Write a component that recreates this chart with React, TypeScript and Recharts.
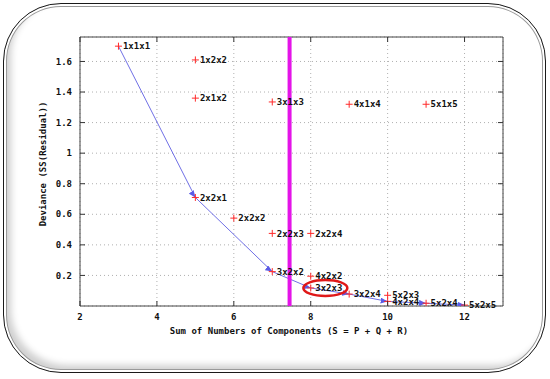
import React from 'react';
import {
  ComposedChart,
  Scatter,
  Line,
  XAxis,
  YAxis,
  CartesianGrid,
  ReferenceLine,
  ReferenceArea,
  ReferenceDot,
  LabelList,
  Label,
} from 'recharts';

// model labels, S = P + Q + R, deviance
const modelLabels = [
  '1x1x1', '1x2x2', '2x1x2', '3x1x3', '4x1x4', '5x1x5',
  '2x2x1', '2x2x2', '2x2x3', '2x2x4', '3x2x2', '4x2x2',
  '3x2x3', '3x2x4', '5x2x3', '4x2x4', '5x2x4', '5x2x5',
];
const componentSums = [3, 5, 5, 7, 9, 11, 5, 6, 7, 8, 7, 8, 8, 9, 10, 10, 11, 12];
const deviances = [
  1.7, 1.61, 1.36, 1.335, 1.32, 1.32,
  0.71, 0.575, 0.475, 0.475, 0.225, 0.195,
  0.118, 0.078, 0.07, 0.03, 0.018, 0.006,
];

// selection path drawn with arrows
const pathLabels = ['1x1x1', '2x2x1', '3x2x2', '3x2x3', '3x2x4', '4x2x4', '5x2x4', '5x2x5'];

const xTicks = [2, 4, 6, 8, 10, 12];
const yTicks = [0.2, 0.4, 0.6, 0.8, 1, 1.2, 1.4, 1.6];
const xDomain = [2, 13];
const yDomain = [0, 1.76];
const cutoffX = 7.45;
const highlighted = { x: 8.38, y: 0.118 };

const points = modelLabels.map((label, i) => ({
  label,
  x: componentSums[i],
  y: deviances[i],
}));
const path = pathLabels.map((l) => points.find((p) => p.label === l)!);

const W = 550;
const H = 379;
const margin = { top: 37, right: 47, bottom: 33, left: 0 };
const Y_AXIS_W = 80;
const X_AXIS_H = 40;
const PLOT_W = W - margin.left - margin.right - Y_AXIS_W;
const PLOT_H = H - margin.top - margin.bottom - X_AXIS_H;

const FONT = '"DejaVu Sans Mono", monospace';

const XTick = (props: any) => {
  const { x, y, payload } = props;
  return (
    <g>
      <line x1={x} y1={y} x2={x} y2={y - 5} stroke="#333" />
      <line x1={x} y1={y - PLOT_H} x2={x} y2={y - PLOT_H + 5} stroke="#333" />
      <text x={x} y={y + 14} textAnchor="middle" fontFamily={FONT} fontSize={9} fontWeight="bold" fill="#111">
        {payload.value}
      </text>
    </g>
  );
};

const YTick = (props: any) => {
  const { x, y, payload } = props;
  return (
    <g>
      <line x1={x} y1={y} x2={x + 5} y2={y} stroke="#333" />
      <line x1={x + PLOT_W} y1={y} x2={x + PLOT_W - 5} y2={y} stroke="#333" />
      <text x={x - 8} y={y} dy="0.35em" textAnchor="end" fontFamily={FONT} fontSize={9} fontWeight="bold" fill="#111">
        {payload.value}
      </text>
    </g>
  );
};

const Plus = (props: any) => {
  const { cx, cy } = props;
  return (
    <g>
      <line x1={cx - 3.5} y1={cy} x2={cx + 3.5} y2={cy} stroke="#ff2a2a" strokeWidth={1} />
      <line x1={cx} y1={cy - 3.5} x2={cx} y2={cy + 3.5} stroke="#ff2a2a" strokeWidth={1} />
    </g>
  );
};

const Ring = (props: any) => {
  const { cx, cy } = props;
  return <ellipse cx={cx} cy={cy} rx={22} ry={8} fill="none" stroke="#e01818" strokeWidth={2.5} />;
};

export default function App() {
  return (
    <div style={{ position: 'absolute', left: 0, top: 0, width: W, height: H, background: '#fff' }}>
      <div
        style={{
          position: 'absolute',
          left: 3,
          top: 3,
          width: 541,
          height: 368,
          border: '1.5px solid #1a1a1a',
          borderRadius: 58,
          boxShadow: 'inset 0 0 0 2px #fff, inset 0 0 0 3px #999, inset 6px -6px 7px 1px #d0d0d0',
        }}
      />
      <svg width={0} height={0} style={{ position: 'absolute' }}>
        <defs>
          <marker id="arrow" markerWidth={8} markerHeight={6} refX={7} refY={3} orient="auto" markerUnits="userSpaceOnUse">
            <path d="M0,0 L7,3 L0,6 z" fill="#5a5ae6" />
          </marker>
        </defs>
      </svg>
      <div style={{ position: 'absolute', left: 0, top: 0 }}>
        <ComposedChart width={W} height={H} margin={margin}>
          <CartesianGrid stroke="#b0b0b0" strokeDasharray="1 3" />
          <XAxis
            type="number"
            dataKey="x"
            domain={xDomain}
            ticks={xTicks}
            allowDataOverflow
            height={X_AXIS_H}
            axisLine={false}
            tickLine={false}
            tickSize={0}
            tickMargin={0}
            tick={<XTick />}
          >
            <Label
              content={() => (
                <text x={289} y={334} textAnchor="middle" fontFamily={FONT} fontSize={9} fontWeight="bold" fill="#111">
                  Sum of Numbers of Components (S = P + Q + R)
                </text>
              )}
            />
          </XAxis>
          <YAxis
            type="number"
            dataKey="y"
            domain={yDomain}
            ticks={yTicks}
            allowDataOverflow
            width={Y_AXIS_W}
            axisLine={false}
            tickLine={false}
            tickSize={0}
            tickMargin={0}
            tick={<YTick />}
          >
            <Label
              content={() => (
                <text
                  x={43}
                  y={164}
                  transform="rotate(-90 43 164)"
                  textAnchor="middle"
                  dominantBaseline="middle"
                  fontFamily={FONT}
                  fontSize={9}
                  fontWeight="bold"
                  fill="#111"
                >
                  Deviance (SS(Residual))
                </text>
              )}
            />
          </YAxis>
          <ReferenceArea x1={xDomain[0]} x2={xDomain[1]} y1={yDomain[0]} y2={yDomain[1]} fill="none" stroke="#444" strokeWidth={1} />
          <Line
            data={path}
            dataKey="y"
            type="linear"
            stroke="#7070e6"
            strokeWidth={1}
            dot={false}
            activeDot={false}
            markerMid="url(#arrow)"
            markerEnd="url(#arrow)"
            isAnimationActive={false}
          />
          <Scatter data={points} dataKey="y" shape={<Plus />} isAnimationActive={false}>
            <LabelList dataKey="label" position="right" offset={0} fontFamily={FONT} fontSize={9} fontWeight="bold" fill="#111" />
          </Scatter>
          <ReferenceLine x={cutoffX} stroke="#e414e8" strokeWidth={4} />
          <ReferenceDot x={highlighted.x} y={highlighted.y} shape={<Ring />} />
        </ComposedChart>
      </div>
    </div>
  );
}
